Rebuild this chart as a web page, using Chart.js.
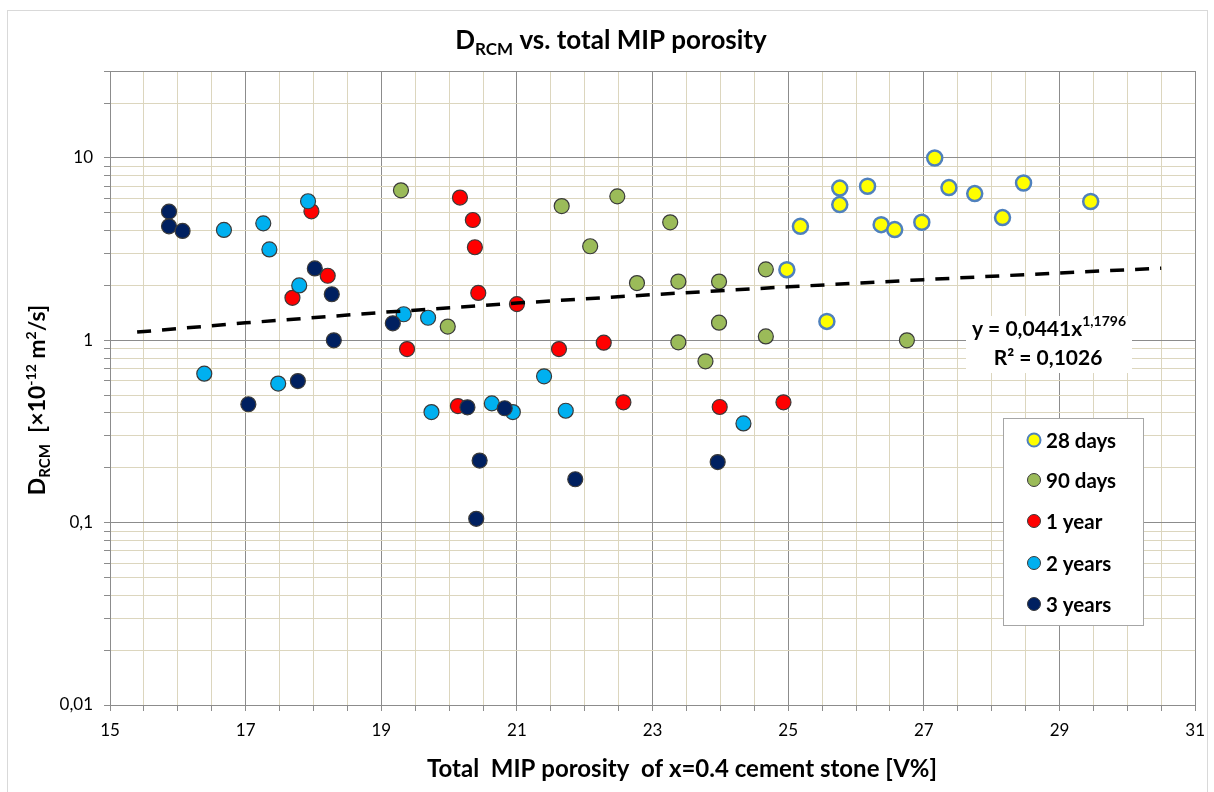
<!DOCTYPE html>
<html>
<head>
<meta charset="utf-8">
<script src="https://cdn.jsdelivr.net/npm/chart.js@4"></script>
<style>
  body { margin: 0; background: #fff; }
  #wrap { width: 1214px; height: 792px; }
</style>
</head>
<body>
<div id="wrap"><canvas id="porosityChart" width="1214" height="792"></canvas></div>
<script>
// Chloride migration coefficient vs. total MIP porosity, per curing age
const seriesNames = ['28 days', '90 days', '1 year', '2 years', '3 years'];

const days28X = [25.18, 24.98, 25.57, 25.76, 25.76, 26.17, 26.37, 26.57, 26.97, 27.16, 27.37, 27.75, 28.16, 28.47, 29.46];
const days28Y = [4.22, 2.44, 1.27, 6.84, 5.55, 7.0, 4.31, 4.05, 4.44, 10.0, 6.88, 6.38, 4.71, 7.29, 5.77];

const days90X = [19.29, 19.98, 21.66, 22.08, 22.48, 22.77, 23.26, 23.38, 23.38, 23.78, 23.98, 23.98, 24.67, 24.67, 26.75];
const days90Y = [6.65, 1.19, 5.45, 3.28, 6.16, 2.06, 4.44, 2.10, 0.975, 0.767, 2.10, 1.25, 2.45, 1.05, 1.0];

const year1X = [17.97, 17.69, 18.21, 19.38, 20.16, 20.35, 20.38, 20.43, 21.0, 20.13, 21.62, 22.28, 22.57, 23.99, 24.93];
const year1Y = [5.1, 1.71, 2.26, 0.896, 6.07, 4.57, 3.24, 1.82, 1.58, 0.436, 0.896, 0.971, 0.457, 0.431, 0.457];

const year2X = [16.68, 17.26, 17.35, 17.92, 17.79, 16.39, 17.48, 19.33, 19.69, 19.74, 20.63, 20.94, 21.40, 21.72, 24.34];
const year2Y = [4.03, 4.38, 3.15, 5.79, 2.0, 0.656, 0.579, 1.39, 1.33, 0.404, 0.451, 0.404, 0.635, 0.411, 0.35];

const year3X = [15.87, 15.87, 16.07, 18.02, 18.27, 18.30, 19.17, 17.04, 17.77, 20.27, 20.82, 20.45, 20.40, 21.86, 23.96];
const year3Y = [5.08, 4.22, 3.98, 2.48, 1.79, 1.0, 1.24, 0.446, 0.598, 0.429, 0.424, 0.219, 0.105, 0.173, 0.215];

// power trend y = 0.0441 x^1.1796, evaluated at these x values
const trendX = [15.4, 17, 19, 21, 23, 25, 27, 29, 30.5];
const trendY = [1.110, 1.247, 1.422, 1.600, 1.781, 1.966, 2.152, 2.342, 2.485];
const trendText = ['y = 0,0441x', '1,1796'];
const r2Text = 'R² = 0,1026';

// axis ticks
const xMajor = [15, 17, 19, 21, 23, 25, 27, 29, 31];
const yDecades = [0.01, 0.1, 1, 10];
const yDecadeLabels = ['0,01', '0,1', '1', '10'];

const FONT = 'Lato, "Open Sans", sans-serif';
const majorGrid = '#8C8C8C';
const minorGrid = '#DCD6BE';

const styles = [
  { bg: '#FFFF00', border: '#4F81BD', bw: 2.5 },
  { bg: '#9BBB59', border: '#3A3A3A', bw: 1.2 },
  { bg: '#FF0000', border: '#3A3A3A', bw: 1.2 },
  { bg: '#00B0F0', border: '#3A3A3A', bw: 1.2 },
  { bg: '#002060', border: '#3A3A3A', bw: 1.2 }
];

function pts(xs, ys) {
  return xs.map((x, i) => ({ x: x, y: ys[i] }));
}

const seriesData = [
  pts(days28X, days28Y),
  pts(days90X, days90Y),
  pts(year1X, year1Y),
  pts(year2X, year2Y),
  pts(year3X, year3Y)
];

const datasets = seriesData.map((d, i) => ({
  label: seriesNames[i],
  data: d,
  backgroundColor: styles[i].bg,
  borderColor: styles[i].border,
  borderWidth: styles[i].bw,
  pointRadius: 7.5,
  order: 5 - i
}));

datasets.push({
  label: 'trend',
  data: pts(trendX, trendY),
  showLine: true,
  borderColor: '#000',
  borderWidth: 3.5,
  borderDash: [14, 11],
  pointRadius: 0,
  fill: false,
  order: 0
});

function isMajorX(v) {
  return xMajor.some(m => Math.abs(m - v) < 1e-6);
}
function isDecade(v) {
  return yDecades.some(d => Math.abs(d - v) / d < 1e-6) || Math.abs(v - 30) < 1e-6;
}

// text helper: pieces with optional sub/superscript
function drawPieces(ctx, pieces, x, y) {
  let cx = x;
  pieces.forEach(p => {
    ctx.font = 'bold ' + p.size + 'px ' + FONT;
    ctx.fillText(p.t, cx, y + (p.dy || 0));
    cx += ctx.measureText(p.t).width;
  });
}
function piecesWidth(ctx, pieces) {
  let w = 0;
  pieces.forEach(p => {
    ctx.font = 'bold ' + p.size + 'px ' + FONT;
    w += ctx.measureText(p.t).width;
  });
  return w;
}

const decor = {
  id: 'decor',
  beforeDraw(chart) {
    const ctx = chart.ctx;
    ctx.save();
    ctx.fillStyle = '#fff';
    ctx.fillRect(0, 0, chart.width, chart.height);
    ctx.strokeStyle = '#D9D9D9';
    ctx.lineWidth = 1;
    ctx.strokeRect(7.5, 10.5, 1200, 800);
    ctx.restore();
  },
  afterDraw(chart) {
    const ctx = chart.ctx;
    ctx.save();
    ctx.fillStyle = '#000';
    ctx.textBaseline = 'alphabetic';

    // main title
    const title = [
      { t: 'D', size: 26 },
      { t: 'RCM', size: 17, dy: 6 },
      { t: ' vs. total MIP porosity', size: 26 }
    ];
    drawPieces(ctx, title, 611 - piecesWidth(ctx, title) / 2, 49);

    // x axis title
    const xt = [{ t: 'Total  MIP porosity  of x=0.4 cement stone [V%]', size: 24 }];
    drawPieces(ctx, xt, 682 - piecesWidth(ctx, xt) / 2, 777);

    // y axis title, rotated
    const yt = [
      { t: 'D', size: 23 },
      { t: 'RCM', size: 15, dy: 5 },
      { t: '  [×10', size: 23 },
      { t: '-12', size: 14, dy: -9 },
      { t: ' m', size: 23 },
      { t: '2', size: 14, dy: -9 },
      { t: '/s]', size: 23 }
    ];
    ctx.translate(45, 400);
    ctx.rotate(-Math.PI / 2);
    drawPieces(ctx, yt, -piecesWidth(ctx, yt) / 2, 0);
    ctx.setTransform(1, 0, 0, 1, 0, 0);

    // trend equation box
    ctx.fillStyle = '#fff';
    ctx.fillRect(966, 316, 166, 57);
    ctx.fillStyle = '#000';
    const eq = [
      { t: trendText[0], size: 21 },
      { t: trendText[1], size: 14, dy: -10 }
    ];
    drawPieces(ctx, eq, 1049 - piecesWidth(ctx, eq) / 2, 336);
    const r2 = [{ t: r2Text, size: 21 }];
    drawPieces(ctx, r2, 1048 - piecesWidth(ctx, r2) / 2, 365);

    // legend
    ctx.fillStyle = '#fff';
    ctx.fillRect(1003.5, 418.5, 140, 207);
    ctx.strokeStyle = '#A6A6A6';
    ctx.lineWidth = 1;
    ctx.strokeRect(1003.5, 418.5, 140, 207);
    const rowY = [440, 480, 521, 563, 604];
    seriesNames.forEach((name, i) => {
      ctx.beginPath();
      ctx.arc(1034, rowY[i], 6.5, 0, Math.PI * 2);
      ctx.fillStyle = styles[i].bg;
      ctx.fill();
      ctx.strokeStyle = styles[i].border;
      ctx.lineWidth = i === 0 ? 2 : 1;
      ctx.stroke();
      ctx.fillStyle = '#000';
      ctx.textBaseline = 'middle';
      ctx.font = 'bold 20.5px ' + FONT;
      ctx.fillText(name, 1046, rowY[i] + 1);
    });
    ctx.restore();
  }
};

new Chart(document.getElementById('porosityChart'), {
  type: 'scatter',
  data: { datasets: datasets },
  plugins: [decor],
  options: {
    responsive: false,
    animation: false,
    events: [],
    layout: { padding: { top: 71, right: 17, bottom: 0, left: 0 } },
    plugins: {
      legend: { display: false },
      tooltip: { enabled: false },
      title: { display: false }
    },
    scales: {
      x: {
        type: 'linear',
        min: 15,
        max: 31,
        afterBuildTicks(scale) {
          const t = [];
          for (let v = 15; v <= 31.0001; v += 0.5) t.push({ value: v });
          scale.ticks = t;
        },
        afterFit(scale) { scale.height = 87; },
        ticks: {
          autoSkip: false,
          maxRotation: 0,
          padding: 9,
          color: '#000',
          font: { family: FONT, size: 17 },
          callback: v => (isMajorX(v) ? String(v) : '')
        },
        grid: {
          color: c => (c.tick && isMajorX(c.tick.value) ? majorGrid : minorGrid),
          lineWidth: 1,
          tickLength: 6,
          tickColor: majorGrid
        },
        border: { display: true, color: majorGrid, width: 1 }
      },
      y: {
        type: 'logarithmic',
        min: 0.01,
        max: 30,
        afterBuildTicks(scale) {
          const t = [];
          yDecades.forEach(d => {
            for (let m = 1; m <= 9; m++) {
              const v = d * m;
              if (v <= 30.0001) t.push({ value: v });
            }
          });
          scale.ticks = t;
        },
        afterFit(scale) { scale.width = 110; },
        ticks: {
          autoSkip: false,
          padding: 11,
          color: '#000',
          font: { family: FONT, size: 17 },
          callback: function (v) {
            const k = yDecades.findIndex(d => Math.abs(d - v) / d < 1e-6);
            return k >= 0 ? yDecadeLabels[k] : '';
          }
        },
        grid: {
          color: c => (c.tick && isDecade(c.tick.value) ? majorGrid : minorGrid),
          lineWidth: 1,
          tickLength: 6,
          tickColor: majorGrid
        },
        border: { display: true, color: majorGrid, width: 1 }
      }
    }
  }
});
</script>
</body>
</html>
